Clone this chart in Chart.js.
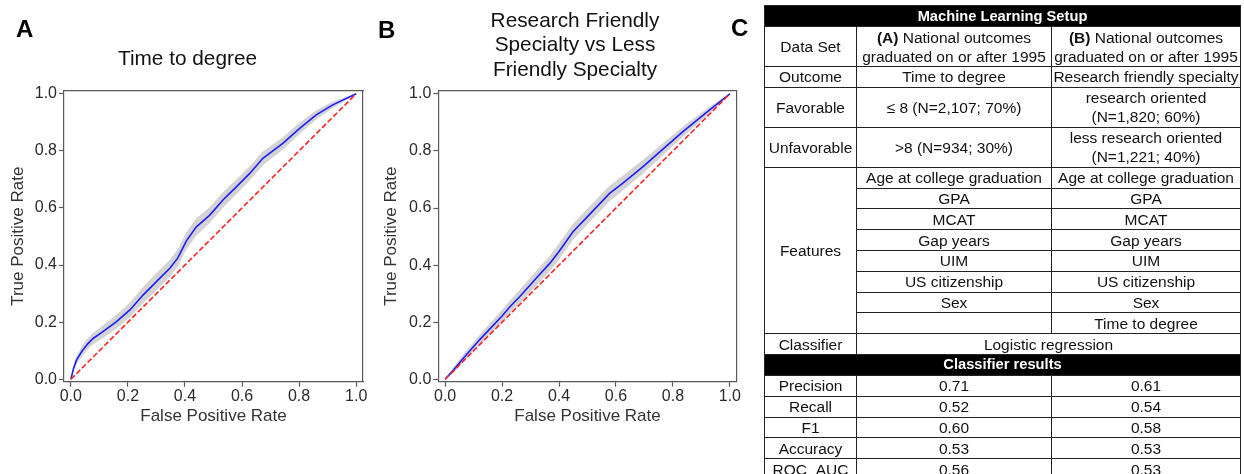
<!DOCTYPE html>
<html>
<head>
<meta charset="utf-8">
<script src="https://cdn.jsdelivr.net/npm/chart.js@4.4.1/dist/chart.umd.min.js"></script>
<style>
  body { margin: 0; width: 1244px; height: 474px; overflow: hidden; background: #fff; position: relative;
         font-family: "Liberation Sans", Arial, sans-serif; color: #111; }
  canvas { position: absolute; top: 0; }
  #rocA { left: 0; }
  #rocB { left: 375px; }
  .panel { position: absolute; font-size: 24px; font-weight: bold; line-height: 1; color: #000; }
  #setup { position: absolute; left: 764px; top: 5px; border-collapse: collapse; table-layout: fixed;
           font-size: 15.5px; line-height: 19px; text-align: center; }
  #setup td { border: 1px solid #222; padding: 0; white-space: nowrap; vertical-align: middle; }
  #setup tr { height: 20.8px; }
  #setup tr.two { height: 40px; }
  #setup tr.head td { background: #000; color: #fff; font-weight: bold; font-size: 14.7px; height: 20px; }
</style>
</head>
<body>
<canvas id="rocA" width="375" height="474"></canvas>
<canvas id="rocB" width="400" height="474"></canvas>
<div class="panel" style="left:16px;top:17px">A</div>
<div class="panel" style="left:378px;top:17.5px">B</div>
<div class="panel" style="left:731px;top:16px">C</div>
<table id="setup">
  <colgroup><col style="width:92px"><col style="width:195px"><col style="width:189px"></colgroup>
  <tbody id="setupBody"></tbody>
</table>

<script>
// ---------------------------------------------------------------------------
// ROC data (false positive rate / true positive rate, with CI band)
// ---------------------------------------------------------------------------
const tickValues = [0, 0.2, 0.4, 0.6, 0.8, 1.0];
const chanceX = [0, 1];
const chanceY = [0, 1];

// Time to degree
const fprA  = [0, 0.01, 0.02, 0.04, 0.06, 0.078, 0.11, 0.16, 0.207, 0.253, 0.30, 0.347, 0.375, 0.405, 0.44,
               0.487, 0.533, 0.58, 0.627, 0.673, 0.743, 0.802, 0.86, 0.918, 1.0];
const tprA  = [0, 0.040, 0.068, 0.100, 0.125, 0.143, 0.165, 0.202, 0.243, 0.295, 0.342, 0.389, 0.425, 0.485, 0.534,
               0.575, 0.628, 0.674, 0.721, 0.774, 0.826, 0.879, 0.926, 0.961, 1.0];
const lowA  = [0, 0.030, 0.054, 0.082, 0.105, 0.123, 0.143, 0.178, 0.217, 0.267, 0.312, 0.359, 0.395, 0.455, 0.504,
               0.547, 0.601, 0.648, 0.696, 0.750, 0.804, 0.859, 0.910, 0.949, 1.0];
const highA = [0, 0.050, 0.082, 0.118, 0.145, 0.163, 0.187, 0.226, 0.269, 0.323, 0.372, 0.419, 0.455, 0.515, 0.564,
               0.603, 0.655, 0.700, 0.746, 0.798, 0.848, 0.899, 0.942, 0.973, 1.0];

// Research friendly vs less friendly specialty
const fprB  = [0, 0.03, 0.064, 0.1225, 0.2, 0.2275, 0.2625, 0.3325, 0.3675, 0.40, 0.449, 0.50, 0.5775, 0.62,
               0.694, 0.741, 0.834, 0.928, 1.0];
const tprB  = [0, 0.033, 0.074, 0.140, 0.222, 0.254, 0.290, 0.368, 0.406, 0.448, 0.517, 0.570, 0.651, 0.684,
               0.744, 0.785, 0.867, 0.943, 1.0];
const lowB  = [0, 0.023, 0.060, 0.122, 0.200, 0.232, 0.266, 0.342, 0.379, 0.420, 0.489, 0.542, 0.624, 0.658,
               0.720, 0.763, 0.849, 0.931, 1.0];
const highB = [0, 0.043, 0.088, 0.158, 0.244, 0.276, 0.314, 0.394, 0.433, 0.476, 0.545, 0.598, 0.678, 0.710,
               0.768, 0.807, 0.885, 0.955, 1.0];

// ---------------------------------------------------------------------------
// Table data
// ---------------------------------------------------------------------------
const setupLabels = ['Data Set', 'Outcome', 'Favorable', 'Unfavorable'];
const setupA = ['<b>(A)</b> National outcomes<br>graduated on or after 1995', 'Time to degree',
                '≤ 8 (N=2,107; 70%)', '&gt;8 (N=934; 30%)'];
const setupB = ['<b>(B)</b> National outcomes<br>graduated on or after 1995', 'Research friendly specialty',
                'research oriented<br>(N=1,820; 60%)', 'less research oriented<br>(N=1,221; 40%)'];
const featuresA = ['Age at college graduation', 'GPA', 'MCAT', 'Gap years', 'UIM', 'US citizenship', 'Sex', ''];
const featuresB = ['Age at college graduation', 'GPA', 'MCAT', 'Gap years', 'UIM', 'US citizenship', 'Sex', 'Time to degree'];
const classifier = 'Logistic regression';
const metricNames = ['Precision', 'Recall', 'F1', 'Accuracy', 'ROC_AUC'];
const metricsA = ['0.71', '0.52', '0.60', '0.53', '0.56'];
const metricsB = ['0.61', '0.54', '0.58', '0.53', '0.53'];

// ---------------------------------------------------------------------------
// Build table
// ---------------------------------------------------------------------------
function buildTable() {
    let html = '<tr class="head"><td colspan="3">Machine Learning Setup</td></tr>';
    setupLabels.forEach((lab, i) => {
        const cls = (setupA[i].includes('<br>') || setupB[i].includes('<br>')) ? ' class="two"' : '';
        html += `<tr${cls}><td>${lab}</td><td>${setupA[i]}</td><td>${setupB[i]}</td></tr>`;
    });
    featuresA.forEach((f, i) => {
        const first = i === 0 ? `<td rowspan="${featuresA.length}">Features</td>` : '';
        html += `<tr>${first}<td>${f}</td><td>${featuresB[i]}</td></tr>`;
    });
    html += `<tr><td>Classifier</td><td colspan="2">${classifier}</td></tr>`;
    html += '<tr class="head"><td colspan="3">Classifier results</td></tr>';
    metricNames.forEach((m, i) => {
        html += `<tr><td>${m}</td><td>${metricsA[i]}</td><td>${metricsB[i]}</td></tr>`;
    });
    document.getElementById('setupBody').innerHTML = html;
}

// ---------------------------------------------------------------------------
// ROC chart
// ---------------------------------------------------------------------------
const FONT = '"Liberation Sans", Arial, sans-serif';
const frameColor = '#5a5a5a';
const labelColor = '#2b2b2b';

Chart.defaults.font.family = FONT;

const pts = (xs, ys) => xs.map((x, i) => ({ x, y: ys[i] }));
const fixedTicks = s => { s.ticks = tickValues.map(v => ({ value: v })); };

function rocChart(id, cfg) {
    return new Chart(document.getElementById(id), {
        type: 'scatter',
        data: {
            datasets: [
                { label: 'chance', data: pts(chanceX, chanceY), showLine: true, borderColor: '#ff2424',
                  borderWidth: 1.6, borderDash: [5.5, 2.4], pointRadius: 0, order: 0 },
                { label: 'ROC', data: pts(cfg.fpr, cfg.tpr), showLine: true, borderColor: '#1c1cff',
                  borderWidth: 1.6, pointRadius: 0, order: 1 },
                { label: 'upper', data: pts(cfg.fpr, cfg.high), showLine: true, borderColor: 'transparent',
                  borderWidth: 0, backgroundColor: '#d3d3d3', fill: '+1', pointRadius: 0, order: 2 },
                { label: 'lower', data: pts(cfg.fpr, cfg.low), showLine: true, borderColor: 'transparent',
                  borderWidth: 0, pointRadius: 0, order: 3 },
            ],
        },
        options: {
            responsive: false,
            animation: false,
            events: [],
            layout: { padding: { left: 0, right: 0, top: 0, bottom: 42.3 } },
            plugins: {
                legend: { display: false },
                tooltip: { enabled: false },
                title: {
                    display: true,
                    text: cfg.title,
                    color: '#111',
                    font: { size: 20.8, weight: 'normal', lineHeight: 1.18 },
                    padding: { top: cfg.titleTop, bottom: cfg.titleBottom },
                },
            },
            scales: {
                x: {
                    type: 'linear', position: 'bottom', min: -0.024, max: 1.024,
                    afterBuildTicks: fixedTicks,
                    afterFit: s => { s.height = 50; },
                    grid: { drawOnChartArea: false, tickLength: 5, tickColor: frameColor, tickWidth: 1.2 },
                    border: { color: frameColor, width: 1.2 },
                    ticks: { color: labelColor, font: { size: 16 }, padding: 0, maxRotation: 0, autoSkip: false,
                             callback: v => v.toFixed(1) },
                    title: { display: true, text: 'False Positive Rate', color: '#333', font: { size: 17 },
                             padding: { top: 0, bottom: 4.8 } },
                },
                y: {
                    type: 'linear', position: 'left', min: -0.0084, max: 1.0105,
                    afterBuildTicks: fixedTicks,
                    afterFit: s => { s.width = cfg.leftGap; },
                    grid: { drawOnChartArea: false, tickLength: 5, tickColor: frameColor, tickWidth: 1.2 },
                    border: { color: frameColor, width: 1.2 },
                    ticks: { color: labelColor, font: { size: 16 }, padding: 2, autoSkip: false,
                             callback: v => v.toFixed(1) },
                    title: { display: true, text: 'True Positive Rate', color: '#333', font: { size: 17 },
                             padding: { top: cfg.yTitlePad, bottom: 0 } },
                },
                // top and right spines
                x2: {
                    type: 'linear', position: 'top', min: 0, max: 1,
                    afterFit: s => { s.height = 0; },
                    grid: { display: false, drawTicks: false },
                    border: { color: frameColor, width: 1.2 },
                    ticks: { display: false },
                },
                y2: {
                    type: 'linear', position: 'right', min: 0, max: 1,
                    afterFit: s => { s.width = cfg.rightGap; },
                    grid: { display: false, drawTicks: false },
                    border: { color: frameColor, width: 1.2 },
                    ticks: { display: false },
                },
            },
        },
    });
}

buildTable();

rocChart('rocA', {
    title: 'Time to degree', fpr: fprA, tpr: tprA, low: lowA, high: highA,
    titleTop: 46.7, titleBottom: 19.5, leftGap: 64, rightGap: 12, yTitlePad: 8.1,
});

rocChart('rocB', {
    title: ['Research Friendly', 'Specialty vs Less', 'Friendly Specialty'],
    fpr: fprB, tpr: tprB, low: lowB, high: highB,
    titleTop: 8.8, titleBottom: 8.4, leftGap: 63.3, rightGap: 38.3, yTitlePad: 6.5,
});
</script>
</body>
</html>
